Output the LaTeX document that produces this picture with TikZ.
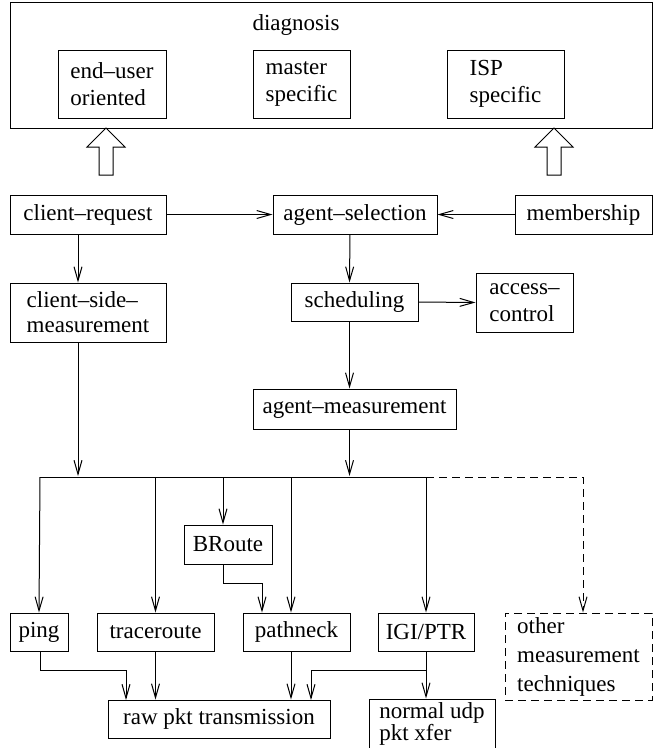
\documentclass[tikz,border=0pt]{standalone}
\usepackage{fontspec}
\setmainfont{Liberation Serif}
\usetikzlibrary{arrows.meta}
\begin{document}
\begin{tikzpicture}[x=1pt,y=-1pt,
  box/.style={draw, line width=1pt, inner sep=0pt, align=left,
    font=\fontsize{23}{27}\selectfont},
  ln/.style={line width=1pt},
  arr/.style={line width=1pt, -{Straight Barb[length=14pt,width=8pt]}},
  dsh/.style={dash pattern=on 8pt off 5pt}]
\useasboundingbox (0,0) rectangle (653,748);

% top diagnosis box
\node[box, minimum width=642pt, minimum height=126pt] (diag) at (331,65) {};
\node[font=\fontsize{23}{27}\selectfont, inner sep=0pt] (diagtxt) at (296,25) {diagnosis};
\node[box, minimum width=108pt, minimum height=68pt] (eu) at (112,84) {end–user\\oriented};
\node[box, minimum width=97pt, minimum height=68pt] (ms) at (301.5,84) {master\\specific};
\node[box, minimum width=117pt, minimum height=68pt] (isp) at (505.5,84) {ISP\\specific};

% hollow arrows
\draw[ln, fill=white] (106,128) -- (125,147) -- (113,147) -- (113,175) -- (99,175) -- (99,147) -- (87,147) -- cycle;
\draw[ln, fill=white] (554,128) -- (573,147) -- (561,147) -- (561,175) -- (547,175) -- (547,147) -- (535,147) -- cycle;

% middle nodes
\node[box, minimum width=156pt, minimum height=39pt] (cr) at (88,214.5) {client–request};
\node[box, minimum width=164pt, minimum height=39pt] (as) at (355,214.5) {agent–selection};
\node[box, minimum width=137pt, minimum height=39pt] (mem) at (583.5,214.5) {membership};
\node[box, minimum width=156pt, minimum height=59pt, font=\fontsize{23}{25}\selectfont] (csm) at (88,312.5) {client–side–\\measurement};
\node[box, minimum width=127pt, minimum height=38pt] (sched) at (354.5,302) {scheduling};
\node[box, minimum width=97pt, minimum height=59pt, font=\fontsize{23}{27}\selectfont] (acc) at (524.5,302.5) {access–\\control};
\node[box, minimum width=203pt, minimum height=40pt] (am) at (354.5,409) {agent–measurement};

% lower nodes
\node[box, minimum width=88pt, minimum height=39pt] (br) at (228,544.5) {BRoute};
\node[box, minimum width=58pt, minimum height=38pt] (ping) at (39,632) {ping};
\node[box, minimum width=117pt, minimum height=38pt] (tr) at (155.5,632) {traceroute};
\node[box, minimum width=107pt, minimum height=38pt] (pn) at (296.5,632) {pathneck};
\node[box, minimum width=96pt, minimum height=38pt] (igi) at (426,632) {IGI/PTR};
\node[box, dsh, minimum width=147pt, minimum height=87pt, font=\fontsize{23}{29}\selectfont] (oth) at (578.5,656.5) {other\\measurement\\techniques};
\node[box, minimum width=222pt, minimum height=38pt] (raw) at (219,719) {raw pkt transmission};
\node[box, minimum width=126pt, minimum height=50pt, font=\fontsize{23}{20}\selectfont] (nud) at (432,724) {normal udp\\pkt xfer};

% upper connectors
\draw[arr] (cr.east) -- (as.west);
\draw[arr] (mem.west) -- (as.east);
\draw[arr] ([xshift=-10pt]cr.south) -- ([xshift=-10pt]csm.north);
\draw[arr] ([xshift=-5pt]as.south) -- ([xshift=-5pt]sched.north);
\draw[arr] (sched.east) -- (acc.west);
\draw[arr] ([xshift=-5pt]sched.south) -- ([xshift=-5pt]am.north);

% bus
\coordinate (busL) at (40,477);
\coordinate (busR) at (426,477);
\coordinate (busD) at (400,477);
\coordinate (jcl) at (78,476);
\coordinate (jam) at (349.5,476);
\draw[arr] ([xshift=-10pt]csm.south) -- (jcl);
\draw[arr] ([xshift=-5pt]am.south) -- (jam);
\draw[ln] (busL) -- (busR);
\draw[arr, dsh] (busD) -| ([xshift=4.5pt]oth.north);

% drops
\path ([xshift=-5pt]br.north) coordinate (brn) ([xshift=-5pt]br.south) coordinate (brs);
\path ([xshift=-5.5pt]pn.north) coordinate (pnn) ([xshift=-5.5pt]pn.south) coordinate (pns);
\path ([xshift=-34.5pt]pn.north) coordinate (pnb);
\coordinate (kbr) at (0,583);
\draw[arr] (busL) -- (ping.north);
\draw[arr] (tr.north |- busL) -- (tr.north);
\draw[arr] (brn |- busL) -- (brn);
\draw[arr] (pnn |- busL) -- (pnn);
\draw[arr] (busR) -- (igi.north);
\draw[arr] (brs) -- (brs |- kbr) -| (pnb);

% bottom connectors
\coordinate (kpy) at (0,670);
\coordinate (kp) at (126,700);
\coordinate (ki) at (311,700);
\draw[arr] ([xshift=1pt]ping.south) -- ([xshift=1pt]ping.south |- kpy) -| (kp);
\draw[arr] (tr.south) -- (tr.south |- raw.north);
\draw[arr] (pns) -- (pns |- raw.north);
\draw[arr] (igi.south) -- (igi.south |- kpy) -| (ki);
\draw[arr] (igi.south) -- (igi.south |- nud.north);
\end{tikzpicture}
\end{document}
